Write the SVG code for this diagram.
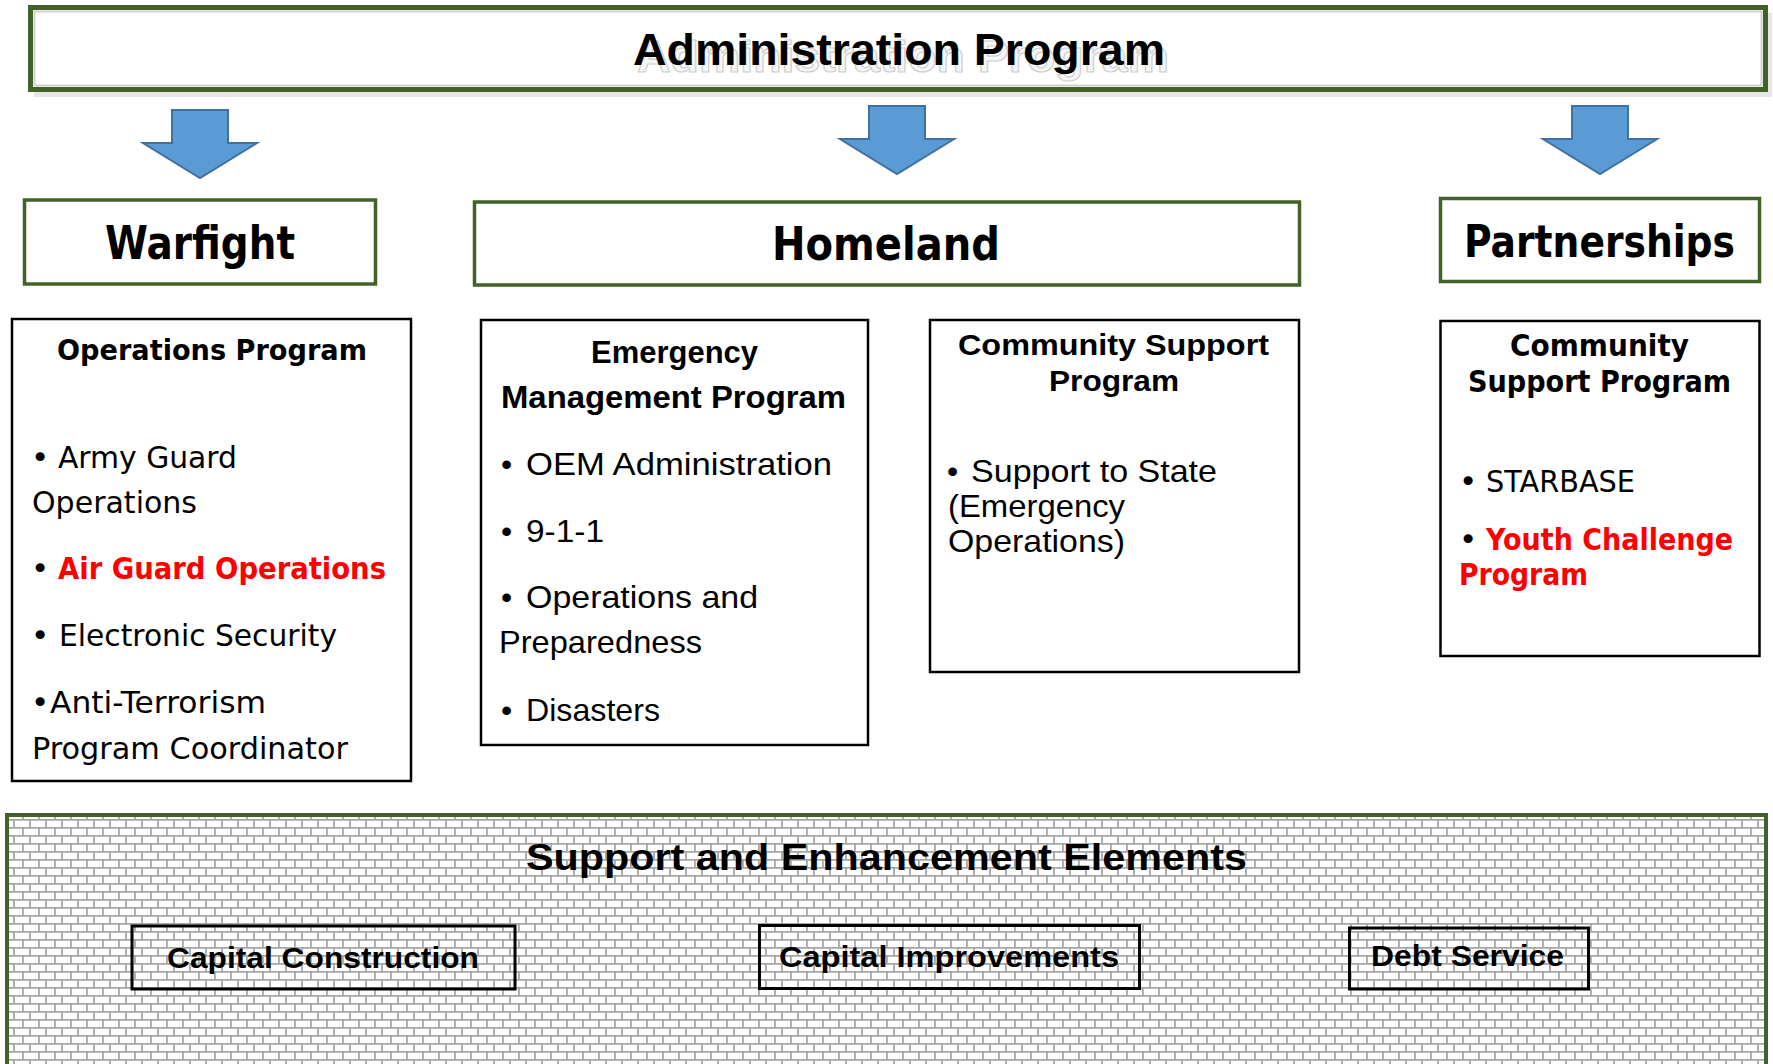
<svg xmlns="http://www.w3.org/2000/svg" width="1773" height="1064" viewBox="0 0 1773 1064">
<defs>
<pattern id="brick" patternUnits="userSpaceOnUse" x="6" y="3" width="16" height="16">
<rect width="16" height="16" fill="#ffffff"/>
<path d="M0 0.9H16M0 8.9H16M8 0V8M0.9 8V16" stroke="#a6a6a6" stroke-width="1.8" fill="none"/>
</pattern>
<polygon id="arrow" points="-28,0 28,0 28,33 57,33 0,68 -57,33 -28,33"/>
</defs>
<style>
.green{fill:#ffffff;stroke:#426229;stroke-width:3.5}
.box{fill:#ffffff;stroke:#000000;stroke-width:2.5}
.sub{fill:none;stroke:#000000;stroke-width:3}
.arr{fill:#5b9bd5;stroke:#41719c;stroke-width:2}
.t{font-family:"DejaVu Sans","Verdana",sans-serif;fill:#000}
.c{font-family:"Liberation Sans Narrow","Liberation Sans","Arial",sans-serif;fill:#000}
.b{font-weight:bold}
.red{fill:#ff0000}
.shadow{fill:#f6f6f6;stroke:#cfcfcf;stroke-width:1.2}
</style>

<g id="admin">
<rect x="34" y="13" width="1738" height="84" fill="#e6e6e6"/>
<rect x="30.5" y="7.5" width="1735" height="82" fill="#ffffff" stroke="#426229" stroke-width="5"/>
<rect x="34.5" y="11.5" width="1727" height="74" fill="none" stroke="#d0d0d0" stroke-width="2"/>
<text class="c b shadow" x="637" y="72" font-size="45" textLength="532" lengthAdjust="spacingAndGlyphs">Administration Program</text>
<text class="c b" x="633" y="65" font-size="45" textLength="532" lengthAdjust="spacingAndGlyphs">Administration Program</text>
</g>

<g id="connectors">
<use href="#arrow" class="arr" transform="translate(200,110)"/>
<use href="#arrow" class="arr" transform="translate(897,106)"/>
<use href="#arrow" class="arr" transform="translate(1600,106)"/>
</g>

<g id="warfight">
<rect class="green" x="24.5" y="200" width="351" height="84"/>
<text class="t b" x="105" y="259" font-size="46" textLength="190" lengthAdjust="spacingAndGlyphs">Warfight</text>
</g>
<g id="homeland">
<rect class="green" x="474.5" y="202" width="825" height="83"/>
<text class="t b" x="772" y="260" font-size="46" textLength="228" lengthAdjust="spacingAndGlyphs">Homeland</text>
</g>
<g id="partnerships">
<rect class="green" x="1440.5" y="198.5" width="319" height="83"/>
<text class="t b" x="1464" y="257" font-size="45" textLength="271" lengthAdjust="spacingAndGlyphs">Partnerships</text>
</g>

<g id="operations">
<rect class="box" x="12" y="319" width="399" height="462"/>
<text class="t b" x="57" y="360" font-size="29" textLength="310" lengthAdjust="spacingAndGlyphs">Operations Program</text>
<text class="t" x="31" y="468" font-size="31">•</text>
<text class="t" x="58" y="468" font-size="31" textLength="179" lengthAdjust="spacingAndGlyphs">Army Guard</text>
<text class="t" x="32" y="513" font-size="31" textLength="165" lengthAdjust="spacingAndGlyphs">Operations</text>
<text class="t" x="31" y="579" font-size="31">•</text>
<text class="t b red" x="58" y="579" font-size="31" textLength="328" lengthAdjust="spacingAndGlyphs">Air Guard Operations</text>
<text class="t" x="31" y="646" font-size="31">•</text>
<text class="t" x="59" y="646" font-size="31" textLength="278" lengthAdjust="spacingAndGlyphs">Electronic Security</text>
<text class="t" x="31" y="713" font-size="31">•</text>
<text class="t" x="50" y="713" font-size="31" textLength="216" lengthAdjust="spacingAndGlyphs">Anti-Terrorism</text>
<text class="t" x="32" y="759" font-size="31" textLength="316" lengthAdjust="spacingAndGlyphs">Program Coordinator</text>
</g>

<g id="emergency">
<rect class="box" x="481" y="320" width="387" height="425"/>
<text class="c b" x="591" y="363" font-size="31" textLength="167" lengthAdjust="spacingAndGlyphs">Emergency</text>
<text class="c b" x="501" y="408" font-size="31" textLength="345" lengthAdjust="spacingAndGlyphs">Management Program</text>
<text class="c" x="501" y="475" font-size="32">•</text>
<text class="c" x="526" y="475" font-size="32" textLength="306" lengthAdjust="spacingAndGlyphs">OEM Administration</text>
<text class="c" x="501" y="542" font-size="32">•</text>
<text class="c" x="526" y="542" font-size="32" textLength="78" lengthAdjust="spacingAndGlyphs">9-1-1</text>
<text class="c" x="501" y="608" font-size="32">•</text>
<text class="c" x="526" y="608" font-size="32" textLength="232" lengthAdjust="spacingAndGlyphs">Operations and</text>
<text class="c" x="499" y="653" font-size="32" textLength="203" lengthAdjust="spacingAndGlyphs">Preparedness</text>
<text class="c" x="501" y="721" font-size="32">•</text>
<text class="c" x="526" y="721" font-size="32" textLength="134" lengthAdjust="spacingAndGlyphs">Disasters</text>
</g>

<g id="community-homeland">
<rect class="box" x="930" y="320" width="369" height="352"/>
<text class="c b" x="958" y="355" font-size="30" textLength="311" lengthAdjust="spacingAndGlyphs">Community Support</text>
<text class="c b" x="1049" y="391" font-size="30" textLength="130" lengthAdjust="spacingAndGlyphs">Program</text>
<text class="c" x="947" y="482" font-size="32">•</text>
<text class="c" x="971" y="482" font-size="32" textLength="246" lengthAdjust="spacingAndGlyphs">Support to State</text>
<text class="c" x="948" y="517" font-size="32" textLength="177" lengthAdjust="spacingAndGlyphs">(Emergency</text>
<text class="c" x="948" y="552" font-size="32" textLength="177" lengthAdjust="spacingAndGlyphs">Operations)</text>
</g>

<g id="community-partnerships">
<rect class="box" x="1440.5" y="321" width="319" height="335"/>
<text class="t b" x="1510" y="356" font-size="30" textLength="179" lengthAdjust="spacingAndGlyphs">Community</text>
<text class="t b" x="1468" y="392" font-size="30" textLength="263" lengthAdjust="spacingAndGlyphs">Support Program</text>
<text class="t" x="1459" y="492" font-size="31">•</text>
<text class="t" x="1486" y="492" font-size="31" textLength="149" lengthAdjust="spacingAndGlyphs">STARBASE</text>
<text class="t" x="1459" y="550" font-size="31">•</text>
<text class="t b red" x="1486" y="550" font-size="31" textLength="247" lengthAdjust="spacingAndGlyphs">Youth Challenge</text>
<text class="t b red" x="1459" y="585" font-size="31" textLength="129" lengthAdjust="spacingAndGlyphs">Program</text>
</g>

<g id="support">
<rect x="7" y="815" width="1759" height="262" fill="url(#brick)" stroke="#426229" stroke-width="4"/>
<text class="c b" x="526" y="870" font-size="36" textLength="721" lengthAdjust="spacingAndGlyphs">Support and Enhancement Elements</text>
</g>
<g id="capital-construction">
<rect class="sub" x="132" y="926" width="383" height="63"/>
<text class="c b" x="167" y="968" font-size="30" textLength="312" lengthAdjust="spacingAndGlyphs">Capital Construction</text>
</g>
<g id="capital-improvements">
<rect class="sub" x="759.5" y="925.5" width="380" height="63"/>
<text class="c b" x="779" y="967" font-size="30" textLength="340" lengthAdjust="spacingAndGlyphs">Capital Improvements</text>
</g>
<g id="debt-service">
<rect class="sub" x="1349.5" y="928" width="239" height="61"/>
<text class="c b" x="1371" y="966" font-size="30" textLength="193" lengthAdjust="spacingAndGlyphs">Debt Service</text>
</g>
</svg>
